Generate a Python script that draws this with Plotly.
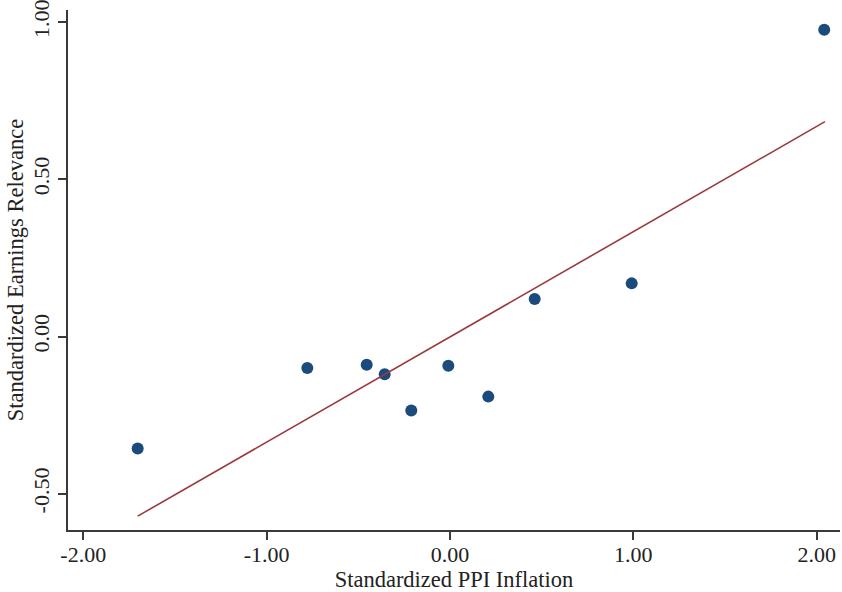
import plotly.graph_objects as go

# Data
ppi_inflation = [-1.703, -0.778, -0.454, -0.356, -0.211, -0.009, 0.209, 0.462, 0.991, 2.041]
earnings_relevance = [-0.356, -0.100, -0.090, -0.120, -0.235, -0.093, -0.191, 0.119, 0.169, 0.975]

# Fitted line endpoints
fit_x = [-1.703, 2.045]
fit_y = [-0.571, 0.683]

x_ticks = [-2, -1, 0, 1, 2]
x_tick_labels = ["-2.00", "-1.00", "0.00", "1.00", "2.00"]
y_ticks = [-0.5, 0, 0.5, 1.0]
y_tick_labels = ["-0.50", "0.00", "0.50", "1.00"]

FONT = "Liberation Serif"
AXIS_COLOR = "#3a3a3a"
TEXT_COLOR = "#222222"

fig = go.Figure()
fig.add_trace(go.Scatter(
    x=ppi_inflation, y=earnings_relevance, mode="markers",
    marker=dict(color="#1b4b7c", size=12, line=dict(width=0)),
    showlegend=False,
))
fig.add_trace(go.Scatter(
    x=fit_x, y=fit_y, mode="lines",
    line=dict(color="#9b3a3e", width=1.6),
    showlegend=False,
))

fig.update_layout(
    width=842, height=592,
    margin=dict(l=68, r=2, t=10, b=62, autoexpand=False),
    paper_bgcolor="white", plot_bgcolor="white",
    font=dict(family=FONT, size=22, color=TEXT_COLOR),
    xaxis=dict(
        range=[-2.083, 2.127],
        tickmode="array", tickvals=x_ticks, ticktext=x_tick_labels,
        showgrid=False, zeroline=False,
        showline=True, linecolor=AXIS_COLOR, linewidth=1.5,
        ticks="outside", ticklen=8, tickcolor=AXIS_COLOR, tickwidth=1.5,
        tickfont=dict(family=FONT, size=22, color=TEXT_COLOR),
        ticklabelstandoff=-4,
        ticklabeloverflow="allow",
        automargin=False,
        title=dict(text="Standardized PPI Inflation", standoff=0,
                   font=dict(family=FONT, size=22.5, color=TEXT_COLOR)),
    ),
    yaxis=dict(
        range=[-0.615, 1.038],
        tickmode="array", tickvals=y_ticks, ticktext=y_tick_labels,
        tickangle=-90,
        showgrid=False, zeroline=False,
        showline=True, linecolor=AXIS_COLOR, linewidth=1.5,
        ticks="outside", ticklen=8, tickcolor=AXIS_COLOR, tickwidth=1.5,
        tickfont=dict(family=FONT, size=22, color=TEXT_COLOR),
        ticklabeloverflow="allow",
        automargin=False,
        title=dict(text="Standardized Earnings Relevance", standoff=0,
                   font=dict(family=FONT, size=22.5, color=TEXT_COLOR)),
    ),
)

fig.write_html("out.html", config={"displayModeBar": False},
               post_script="document.body.style.margin='0';")
